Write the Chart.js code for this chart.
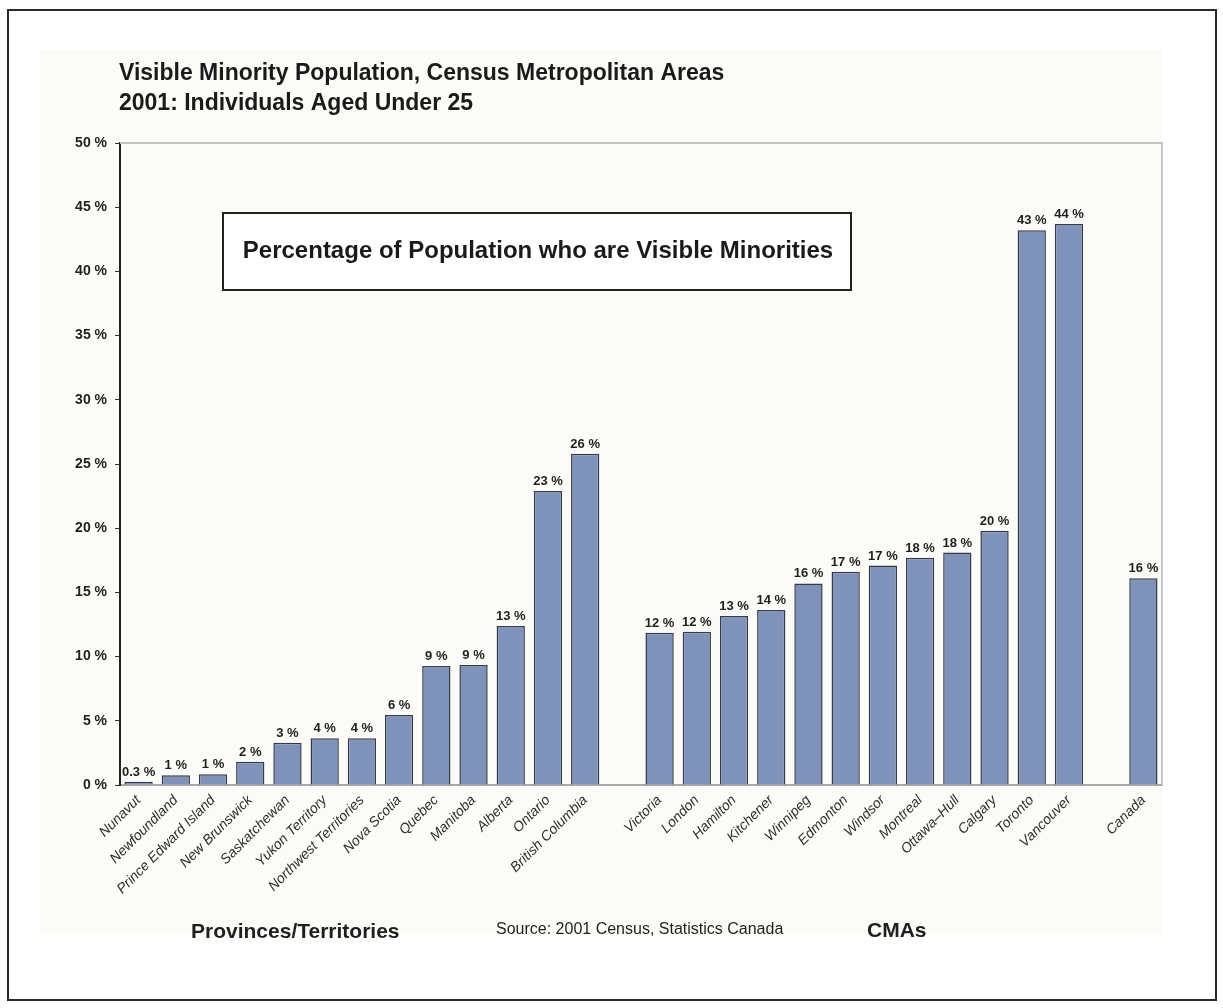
<!DOCTYPE html>
<html>
<head>
<meta charset="utf-8">
<script src="https://cdn.jsdelivr.net/npm/chart.js@4/dist/chart.umd.min.js"></script>
<style>
  html, body { margin: 0; padding: 0; background: #ffffff; }
  canvas { display: block; }
</style>
</head>
<body>
<canvas id="c" width="1223" height="1008"></canvas>
<script>
// ---- data ----
const categories = [
  'Nunavut', 'Newfoundland', 'Prince Edward Island', 'New Brunswick', 'Saskatchewan',
  'Yukon Territory', 'Northwest Territories', 'Nova Scotia', 'Quebec', 'Manitoba',
  'Alberta', 'Ontario', 'British Columbia', '',
  'Victoria', 'London', 'Hamilton', 'Kitchener', 'Winnipeg', 'Edmonton', 'Windsor',
  'Montreal', 'Ottawa\u2013Hull', 'Calgary', 'Toronto', 'Vancouver', '',
  'Canada'
];
const percentValues = [
  0.26, 0.75, 0.83, 1.81, 3.29,
  3.64, 3.64, 5.45, 9.27, 9.35,
  12.38, 22.9, 25.8, null,
  11.86, 11.94, 13.16, 13.63, 15.7, 16.6, 17.1,
  17.7, 18.1, 19.8, 43.2, 43.7, null,
  16.1
];
const valueLabels = [
  '0.3 %', '1 %', '1 %', '2 %', '3 %',
  '4 %', '4 %', '6 %', '9 %', '9 %',
  '13 %', '23 %', '26 %', '',
  '12 %', '12 %', '13 %', '14 %', '16 %', '17 %', '17 %',
  '18 %', '18 %', '20 %', '43 %', '44 %', '',
  '16 %'
];
const yTickValues = [0, 5, 10, 15, 20, 25, 30, 35, 40, 45, 50];
const titleLines = ['Visible Minority Population, Census Metropolitan Areas', '2001: Individuals Aged Under 25'];
const boxText = 'Percentage of Population who are Visible Minorities';
const groupLabelProvinces = 'Provinces/Territories';
const groupLabelCMAs = 'CMAs';
const sourceText = 'Source: 2001 Census, Statistics Canada';

const FONT = "'Liberation Sans', Arial, Helvetica, sans-serif";
const W = 1223, H = 1008;

const decorPlugin = {
  id: 'decor',
  beforeDraw(chart) {
    const ctx = chart.ctx;
    ctx.save();
    ctx.fillStyle = '#ffffff';
    ctx.fillRect(0, 0, W, H);
    ctx.fillStyle = '#fbfbf7';
    ctx.fillRect(40, 50, chart.chartArea.right - 40, 885);
    ctx.restore();
  },
  beforeDatasetsDraw(chart) {
    const ctx = chart.ctx, a = chart.chartArea;
    ctx.save();
    ctx.strokeStyle = '#c4c4c4';
    ctx.lineWidth = 2;
    ctx.beginPath();
    ctx.moveTo(a.left, a.top);
    ctx.lineTo(a.right, a.top);
    ctx.lineTo(a.right, a.bottom);
    ctx.stroke();
    ctx.restore();
  },
  afterDraw(chart) {
    const ctx = chart.ctx;
    ctx.save();
    // outer frame
    ctx.strokeStyle = '#2a2a2a';
    ctx.lineWidth = 2;
    ctx.strokeRect(8, 10, 1208, 990);

    // title
    ctx.fillStyle = '#1a1a1a';
    ctx.textAlign = 'left';
    ctx.textBaseline = 'alphabetic';
    ctx.font = 'bold 23px ' + FONT;
    ctx.fillText(titleLines[0], 119, 80);
    ctx.fillText(titleLines[1], 119, 110);

    // annotation box
    ctx.fillStyle = '#ffffff';
    ctx.fillRect(223, 213, 628, 77);
    ctx.strokeStyle = '#222222';
    ctx.lineWidth = 2;
    ctx.strokeRect(223, 213, 628, 77);
    ctx.fillStyle = '#1a1a1a';
    ctx.font = 'bold 24px ' + FONT;
    ctx.textAlign = 'center';
    ctx.textBaseline = 'middle';
    ctx.fillText(boxText, 538, 251);

    // value labels above bars
    const meta = chart.getDatasetMeta(0);
    ctx.font = 'bold 13px ' + FONT;
    ctx.textAlign = 'center';
    ctx.textBaseline = 'bottom';
    ctx.fillStyle = '#1f1f1f';
    meta.data.forEach((bar, i) => {
      if (valueLabels[i] && percentValues[i] != null) {
        ctx.fillText(valueLabels[i], bar.x, bar.y - 3);
      }
    });

    // group labels + source
    ctx.textBaseline = 'middle';
    ctx.textAlign = 'left';
    ctx.font = 'bold 21px ' + FONT;
    ctx.fillText(groupLabelProvinces, 191, 932);
    ctx.fillText(groupLabelCMAs, 867, 931);
    ctx.font = '16px ' + FONT;
    ctx.fillText(sourceText, 496, 930);
    ctx.restore();
  }
};

new Chart(document.getElementById('c'), {
  type: 'bar',
  data: {
    labels: categories,
    datasets: [{
      data: percentValues,
      backgroundColor: '#7f93ba',
      borderColor: '#353a46',
      borderWidth: 1.5,
      borderSkipped: 'bottom',
      barPercentage: 0.76,
      categoryPercentage: 1.0
    }]
  },
  options: {
    responsive: false,
    animation: false,
    devicePixelRatio: 1,
    layout: { padding: { left: 40, right: 61, top: 143, bottom: 0 } },
    plugins: { legend: { display: false }, tooltip: { enabled: false }, title: { display: false } },
    scales: {
      x: {
        type: 'category',
        offset: true,
        grid: { display: false, drawTicks: false },
        border: { display: true, color: '#a9a9a9', width: 2 },
        ticks: {
          autoSkip: false, maxRotation: 45, minRotation: 45,
          color: '#2e2e2e', padding: 7,
          font: { family: FONT, size: 14, style: 'italic' }
        },
        afterFit(scale) { scale.height = H - 785; }
      },
      y: {
        min: 0, max: 50,
        afterBuildTicks(scale) { scale.ticks = yTickValues.map(v => ({ value: v })); },
        ticks: {
          color: '#1f1f1f', padding: 8,
          font: { family: FONT, size: 14, weight: 'bold' },
          callback: v => v + ' %'
        },
        grid: { drawOnChartArea: false, drawTicks: true, tickLength: 5, color: '#333333' },
        border: { display: true, color: '#222222', width: 2 },
        afterFit(scale) { scale.width = 80; }
      }
    }
  },
  plugins: [decorPlugin]
});
</script>
</body>
</html>
